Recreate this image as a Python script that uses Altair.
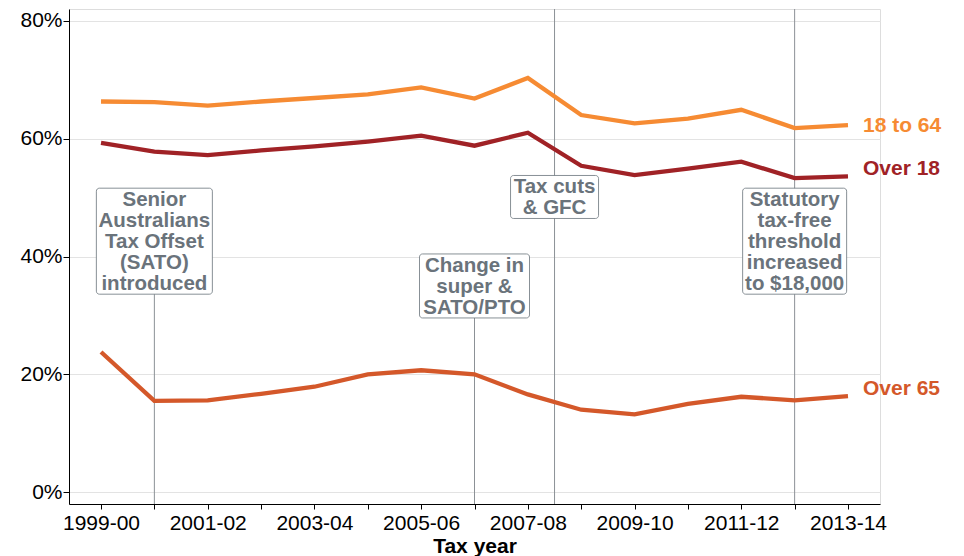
import json
import altair as alt
import pandas as pd

# ---------------- data ----------------
years = ["1999-00", "2000-01", "2001-02", "2002-03", "2003-04", "2004-05",
         "2005-06", "2006-07", "2007-08", "2008-09", "2009-10", "2010-11",
         "2011-12", "2012-13", "2013-14"]
age_18_64 = [66.3, 66.2, 65.6, 66.3, 66.9, 67.5, 68.7, 66.8, 70.3, 64.0,
             62.6, 63.4, 64.9, 61.8, 62.3]
over_18 = [59.3, 57.8, 57.2, 58.0, 58.7, 59.5, 60.5, 58.8, 61.0, 55.4,
           53.8, 54.9, 56.1, 53.3, 53.6]
over_65 = [23.8, 15.5, 15.6, 16.7, 17.9, 20.0, 20.7, 20.0, 16.6, 14.0,
           13.2, 15.0, 16.2, 15.6, 16.3]
series_names = ["18 to 64", "Over 18", "Over 65"]
series_colors = ["#F68B33", "#A02226", "#D4582A"]

# events (x in year index, y = label centre in %)
event_x = [1, 7, 8.5, 13]
event_y = [42.6, 35.0, 50.1, 42.6]
event_text = [["Senior", "Australians", "Tax Offset", "(SATO)", "introduced"],
              ["Change in", "super &", "SATO/PTO"],
              ["Tax cuts", "& GFC"],
              ["Statutory", "tax-free", "threshold", "increased", "to $18,000"]]
event_full_rule = [False, False, True, True]
box_widths = [116, 110, 88, 104]

# end-of-line label placement (%)
label_y = [62.2, 54.9, 17.5]

# ---------------- styling ----------------
FONT = "Liberation Sans"
GREY = "#6A737B"
RULE = "#8C9196"
W, H = 811, 495
X_DOM = [-0.6, 14.6]
Y_DOM = [-2, 82]
LINE_H = 21

rows = []
for name, vals in zip(series_names, [age_18_64, over_18, over_65]):
    for i, v in enumerate(vals):
        rows.append({"series": name, "idx": i, "year": years[i], "value": v})
df = pd.DataFrame(rows)

tick_labels = [y if i % 2 == 0 else "" for i, y in enumerate(years)]
label_expr = json.dumps(tick_labels) + "[datum.value]"

x_scale = alt.Scale(domain=X_DOM, nice=False, zero=False)
y_scale = alt.Scale(domain=Y_DOM, nice=False, zero=False)
color_scale = alt.Scale(domain=series_names, range=series_colors)

x_enc = alt.X("idx:Q", scale=x_scale, title="Tax year",
              axis=alt.Axis(values=list(range(len(years))), labelExpr=label_expr,
                            grid=False, tickSize=5, labelPadding=3, titlePadding=2,
                            labelFontSize=21, titleFontSize=21, titleFontWeight="bold",
                            labelColor="black", titleColor="black",
                            domainColor="black", tickColor="black",
                            labelFont=FONT, titleFont=FONT, labelFlush=False,
                            labelOverlap=False))
y_enc = alt.Y("value:Q", scale=y_scale, title=None,
              axis=alt.Axis(values=[0, 20, 40, 60, 80], labelExpr="datum.value + '%'",
                            grid=True, gridColor="#E3E3E3", gridWidth=1,
                            tickSize=6, labelPadding=1, labelFontSize=21,
                            labelColor="black", domainColor="black",
                            tickColor="black", labelFont=FONT))

lines = alt.Chart(df).mark_line(strokeWidth=4.3).encode(
    x=x_enc, y=y_enc,
    color=alt.Color("series:N", scale=color_scale, legend=None),
    order="idx:Q",
)

ev = pd.DataFrame({"x": event_x, "y": event_y, "full": event_full_rule})
rules_partial = alt.Chart(ev[~ev.full]).mark_rule(color=RULE, strokeWidth=1).encode(
    x=alt.X("x:Q", scale=x_scale), y=alt.Y("y:Q", scale=y_scale), y2=alt.datum(Y_DOM[0]))
rules_full = alt.Chart(ev[ev.full]).mark_rule(color=RULE, strokeWidth=1).encode(
    x=alt.X("x:Q", scale=x_scale), y=alt.datum(Y_DOM[1]), y2=alt.datum(Y_DOM[0]))

layers = [rules_partial, rules_full, lines]

for ex, ey, txt, bw in zip(event_x, event_y, event_text, box_widths):
    one = pd.DataFrame({"x": [ex], "y": [ey]})
    bh = LINE_H * len(txt) + 1
    box = alt.Chart(one).mark_rect(
        fill="white", stroke=GREY, strokeWidth=0.8, cornerRadius=3,
        xOffset=-bw / 2, x2Offset=bw / 2, yOffset=-bh / 2, y2Offset=bh / 2,
    ).encode(x=alt.X("x:Q", scale=x_scale), x2="x", y=alt.Y("y:Q", scale=y_scale), y2="y")
    text = alt.Chart(one).mark_text(
        text=txt, align="center", baseline="middle", lineHeight=LINE_H,
        dy=-(len(txt) - 1) * LINE_H / 2 + 1,
        fontSize=20.5, fontWeight="bold", color=GREY, font=FONT,
    ).encode(x=alt.X("x:Q", scale=x_scale), y=alt.Y("y:Q", scale=y_scale))
    layers += [box, text]

lab = pd.DataFrame({"series": series_names, "idx": [len(years) - 1] * 3, "ly": label_y})
labels = alt.Chart(lab).mark_text(
    align="left", baseline="middle", dx=15, fontSize=21, fontWeight="bold", font=FONT,
).encode(
    x=alt.X("idx:Q", scale=x_scale), y=alt.Y("ly:Q", scale=y_scale),
    text="series:N", color=alt.Color("series:N", scale=color_scale, legend=None),
)
layers.append(labels)

chart = alt.layer(*layers).properties(
    width=W, height=H,
    padding={"left": 11, "top": 0, "right": 5, "bottom": 0},
).configure_view(stroke=None).configure(font=FONT)

chart.save("out.html", embed_options={"renderer": "svg", "actions": False})
